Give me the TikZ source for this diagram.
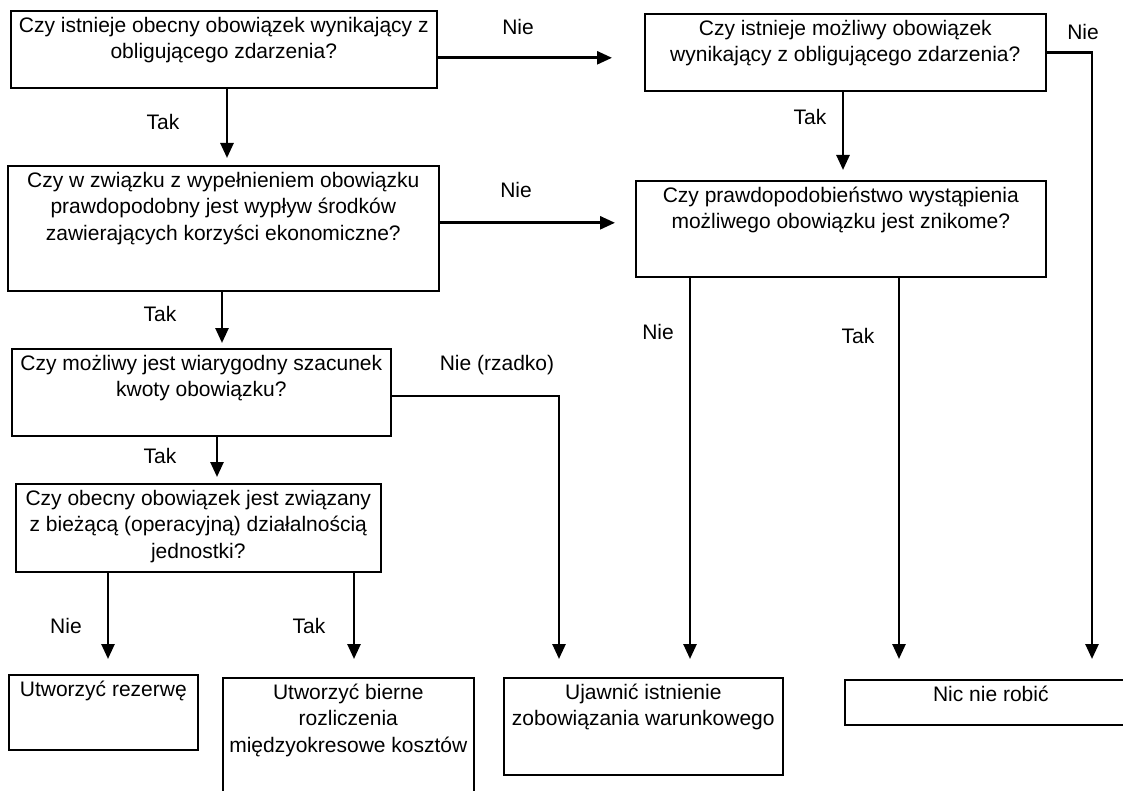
\documentclass[tikz,border=0pt]{standalone}
\usepackage{fontspec}
\setmainfont{Liberation Sans}
\usetikzlibrary{arrows.meta}
\newcommand{\qtext}[3]{\parbox[c][#2][t]{#1}{\centering\strut #3}}

\begin{document}
\begin{tikzpicture}[x=1pt, y=-1pt,
  font=\fontsize{21}{26.5}\selectfont,
  qbox/.style={draw, line width=1.6pt, anchor=north west,
               inner xsep=0pt, inner ysep=3pt},
  arr/.style={-{Triangle[length=15pt, width=13pt]}, line width=2.6pt},
  lbl/.style={inner sep=0pt},
]
\useasboundingbox (0,0) rectangle (1123,791);
\clip (0,0) rectangle (1123,791);

% Questions
\node[qbox] (A) at (10,10)
  {\qtext{426pt}{71pt}{Czy istnieje obecny obowiązek wynikający z\\obligującego zdarzenia?}};
\node[qbox] (B) at (644,13)
  {\qtext{401pt}{71pt}{Czy istnieje możliwy obowiązek\\wynikający z obligującego zdarzenia?}};
\node[qbox] (C) at (7,165)
  {\qtext{431pt}{119pt}{Czy w związku z wypełnieniem obowiązku\\prawdopodobny jest wypływ środków\\zawierających korzyści ekonomiczne?}};
\node[qbox] (D) at (635,180)
  {\qtext{410pt}{90pt}{Czy prawdopodobieństwo wystąpienia\\możliwego obowiązku jest znikome?}};
\node[qbox] (E) at (11,348)
  {\qtext{379pt}{81pt}{Czy możliwy jest wiarygodny szacunek\\kwoty obowiązku?}};
\node[qbox] (F) at (15,483)
  {\qtext{365pt}{82pt}{Czy obecny obowiązek jest związany\\z bieżącą (operacyjną) działalnością\\jednostki?}};

% Outcomes
\node[qbox] (G) at (8,674) {\qtext{189pt}{69pt}{Utworzyć rezerwę}};
\node[qbox] (H) at (222,677)
  {\qtext{251pt}{124pt}{Utworzyć bierne\\rozliczenia\\międzyokresowe kosztów}};
\node[qbox] (I) at (503,677)
  {\qtext{279pt}{91pt}{Ujawnić istnienie\\zobowiązania warunkowego}};
\node[qbox] (J) at (844,679) {\qtext{292pt}{39pt}{Nic nie robić}};

% Arrows
\draw[arr, shorten >=32pt] ([yshift=-8.5pt]A.east) -- ([yshift=-5.5pt]B.west);
\draw[arr, shorten >=20pt] ([yshift=5.5pt]C.east) -- ([yshift=6pt]D.west);
\draw[arr, shorten >=7pt]  (A.south -| 227,0) -- (C.north -| 227,0);
\draw[arr, shorten >=10pt] (B.south -| 843,0) -- (D.north -| 843,0);
\draw[arr, shorten >=5pt]  (C.south -| 222,0) -- (E.north -| 222,0);
\draw[arr, shorten >=6pt]  (E.south -| 217,0) -- (F.north -| 217,0);
\draw[arr, shorten >=20pt] (B.east) -| (J.north -| 1092,0);
\draw[arr, shorten >=18pt] ([yshift=-3.5pt]E.east) -| (I.north -| 559,0);
\draw[arr, shorten >=18pt] (D.south -| 690,0) -- (I.north -| 690,0);
\draw[arr, shorten >=20pt] (D.south -| 899,0) -- (J.north -| 899,0);
\draw[arr, shorten >=15pt] (F.south -| 108,0) -- (G.north -| 108,0);
\draw[arr, shorten >=18pt] (F.south -| 354,0) -- (H.north -| 354,0);

% Labels
\node[lbl] (nieAB) at (518,27)  {Nie};
\node[lbl] (nieBJ) at (1083,32) {Nie};
\node[lbl] (takAC) at (163,122) {Tak};
\node[lbl] (takBD) at (810,117) {Tak};
\node[lbl] (nieCD) at (516,190) {Nie};
\node[lbl] (takCE) at (160,314) {Tak};
\node[lbl] (nieDI) at (658,332) {Nie};
\node[lbl] (takDJ) at (858,336) {Tak};
\node[lbl] (nieEI) at (497,365) {Nie (rzadko)};
\node[lbl] (takEF) at (160,456) {Tak};
\node[lbl] (nieFG) at (66,626)  {Nie};
\node[lbl] (takFH) at (309,626) {Tak};

\end{tikzpicture}
\end{document}
